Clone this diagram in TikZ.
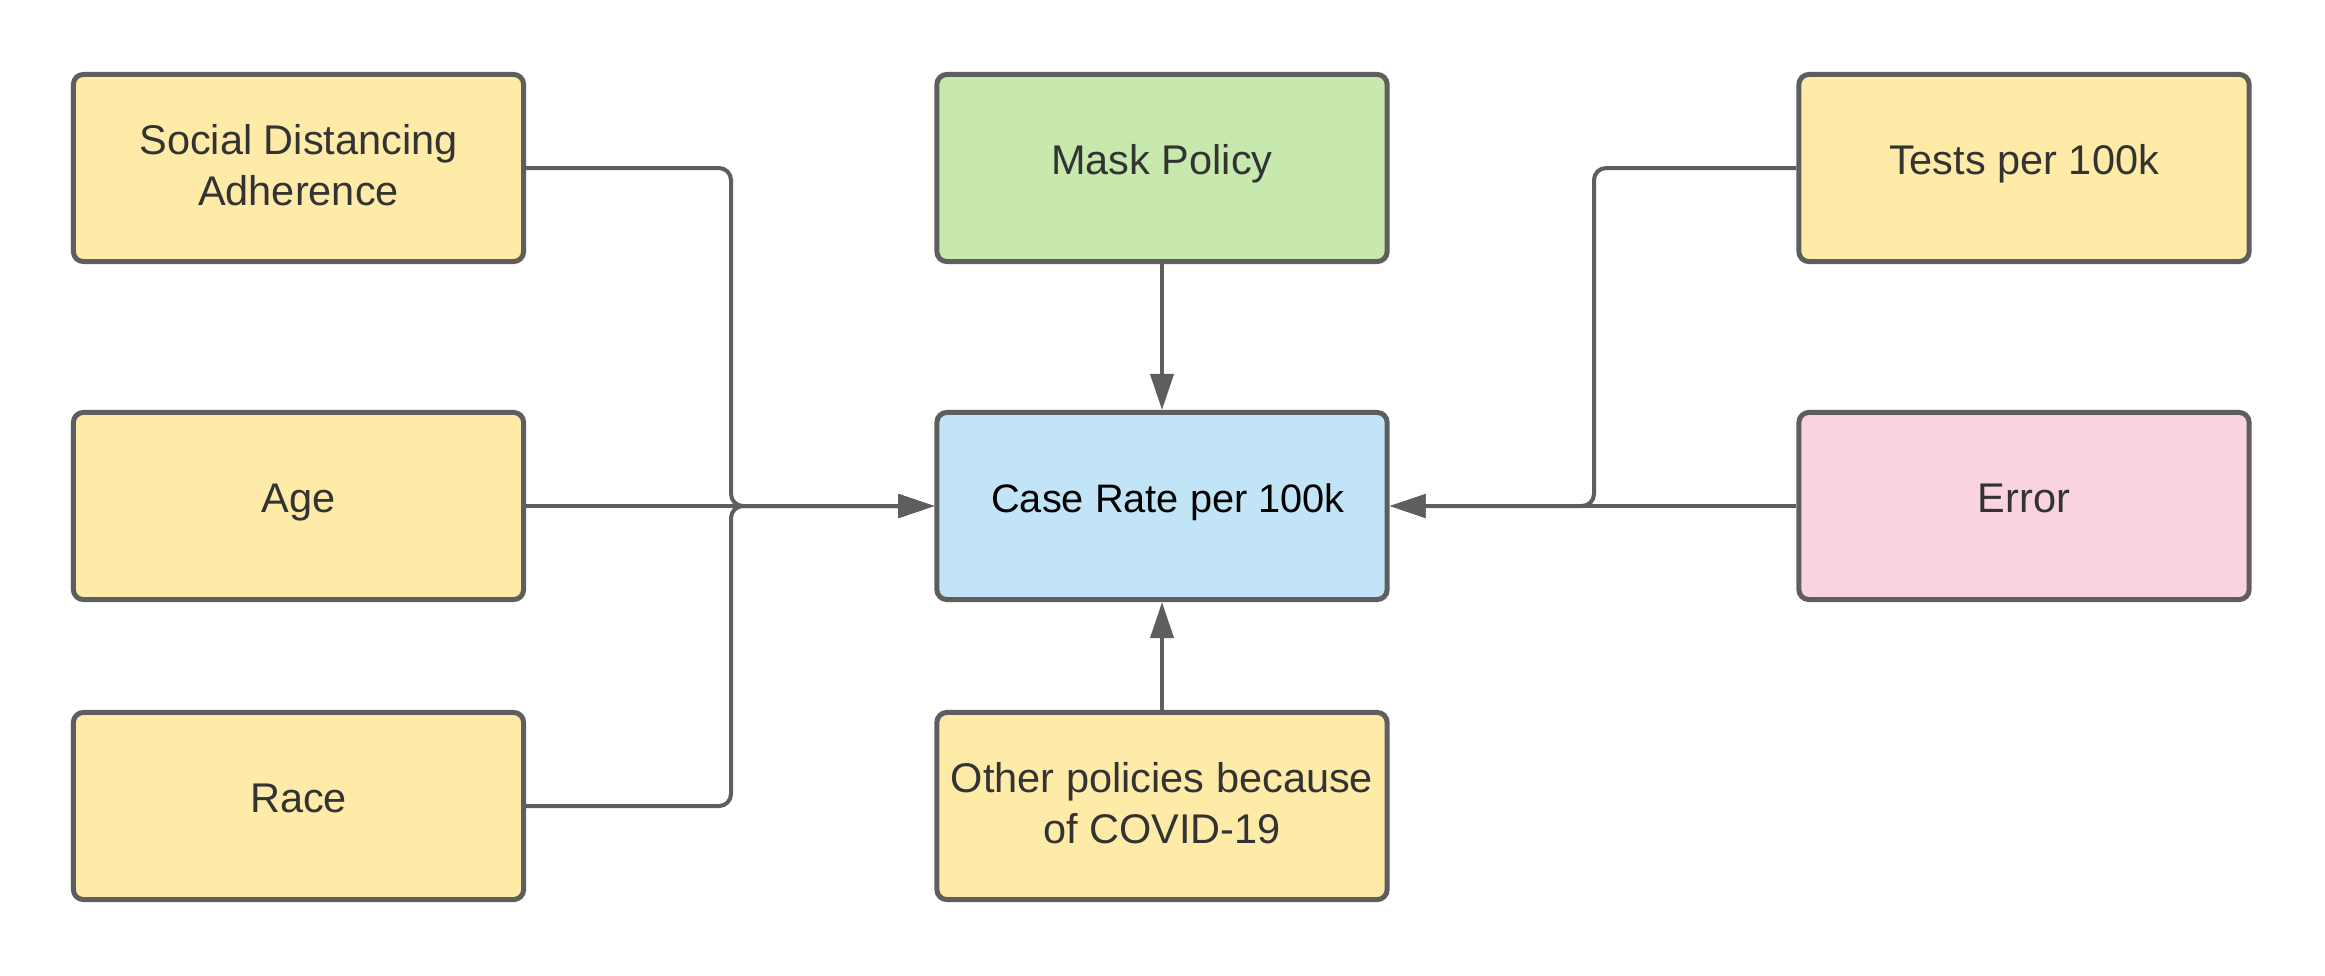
\documentclass[tikz,border=0pt]{standalone}
\usepackage{fontspec}
\setmainfont{Liberation Sans}
\usetikzlibrary{arrows.meta}
\definecolor{bordergray}{HTML}{5E5E5E}
\definecolor{txtgray}{HTML}{333333}
\definecolor{boxyellow}{HTML}{FFEBA8}
\definecolor{boxgreen}{HTML}{C7E9AD}
\definecolor{boxblue}{HTML}{C2E4F7}
\definecolor{boxpink}{HTML}{F9D3DD}
\tikzset{
  box/.style={draw=bordergray, line width=0.05cm, rounded corners=0.1cm,
    minimum width=4.5cm, minimum height=1.87cm, align=center,
    text=txtgray, font=\fontsize{11.8pt}{14.3pt}\selectfont, inner sep=0pt},
  oneline/.style={text height=0.72em, text depth=0.36em},
  twoline/.style={text depth=0.18em},
  conn/.style={draw=bordergray, line width=0.04cm, rounded corners=0.12cm,
    -{Triangle[length=0.36cm,width=0.23cm]}}
}
\begin{document}
\begin{tikzpicture}[x=0.01cm,y=-0.01cm]
\useasboundingbox[fill=white] (0,0) rectangle (2325,975);
\node[box, twoline, fill=boxyellow] (sd) at (298.5,168) {Social Distancing\\Adherence};
\node[box, oneline, fill=boxyellow] (age) at (298.5,506) {Age};
\node[box, oneline, fill=boxyellow] (race) at (298.5,806) {Race};
\node[box, oneline, fill=boxgreen] (mask) at (1162,168) {Mask Policy};
\node[box, oneline, fill=boxblue, text=black, font=\fontsize{11.3pt}{14pt}\selectfont] (cr) at (1162,506) {\hspace*{0.12cm}Case Rate per 100k};
\node[box, twoline, fill=boxyellow] (other) at (1162,806) {Other policies because\\of COVID-19};
\node[box, oneline, fill=boxyellow] (tests) at (2024,168) {Tests per 100k};
\node[box, oneline, fill=boxpink] (err) at (2024,506) {Error};
\coordinate (jl) at (731,506);
\coordinate (jr) at (1594,506);
\draw[conn] (sd.east) -| (jl) -- (cr.west);
\draw[conn] (race.east) -| (jl) -- (cr.west);
\draw[conn] (age.east) -- (cr.west);
\draw[conn] (tests.west) -| (jr) -- (cr.east);
\draw[conn] (err.west) -- (cr.east);
\draw[conn] (mask.south) -- (cr.north);
\draw[conn] (other.north) -- (cr.south);
\end{tikzpicture}
\end{document}
